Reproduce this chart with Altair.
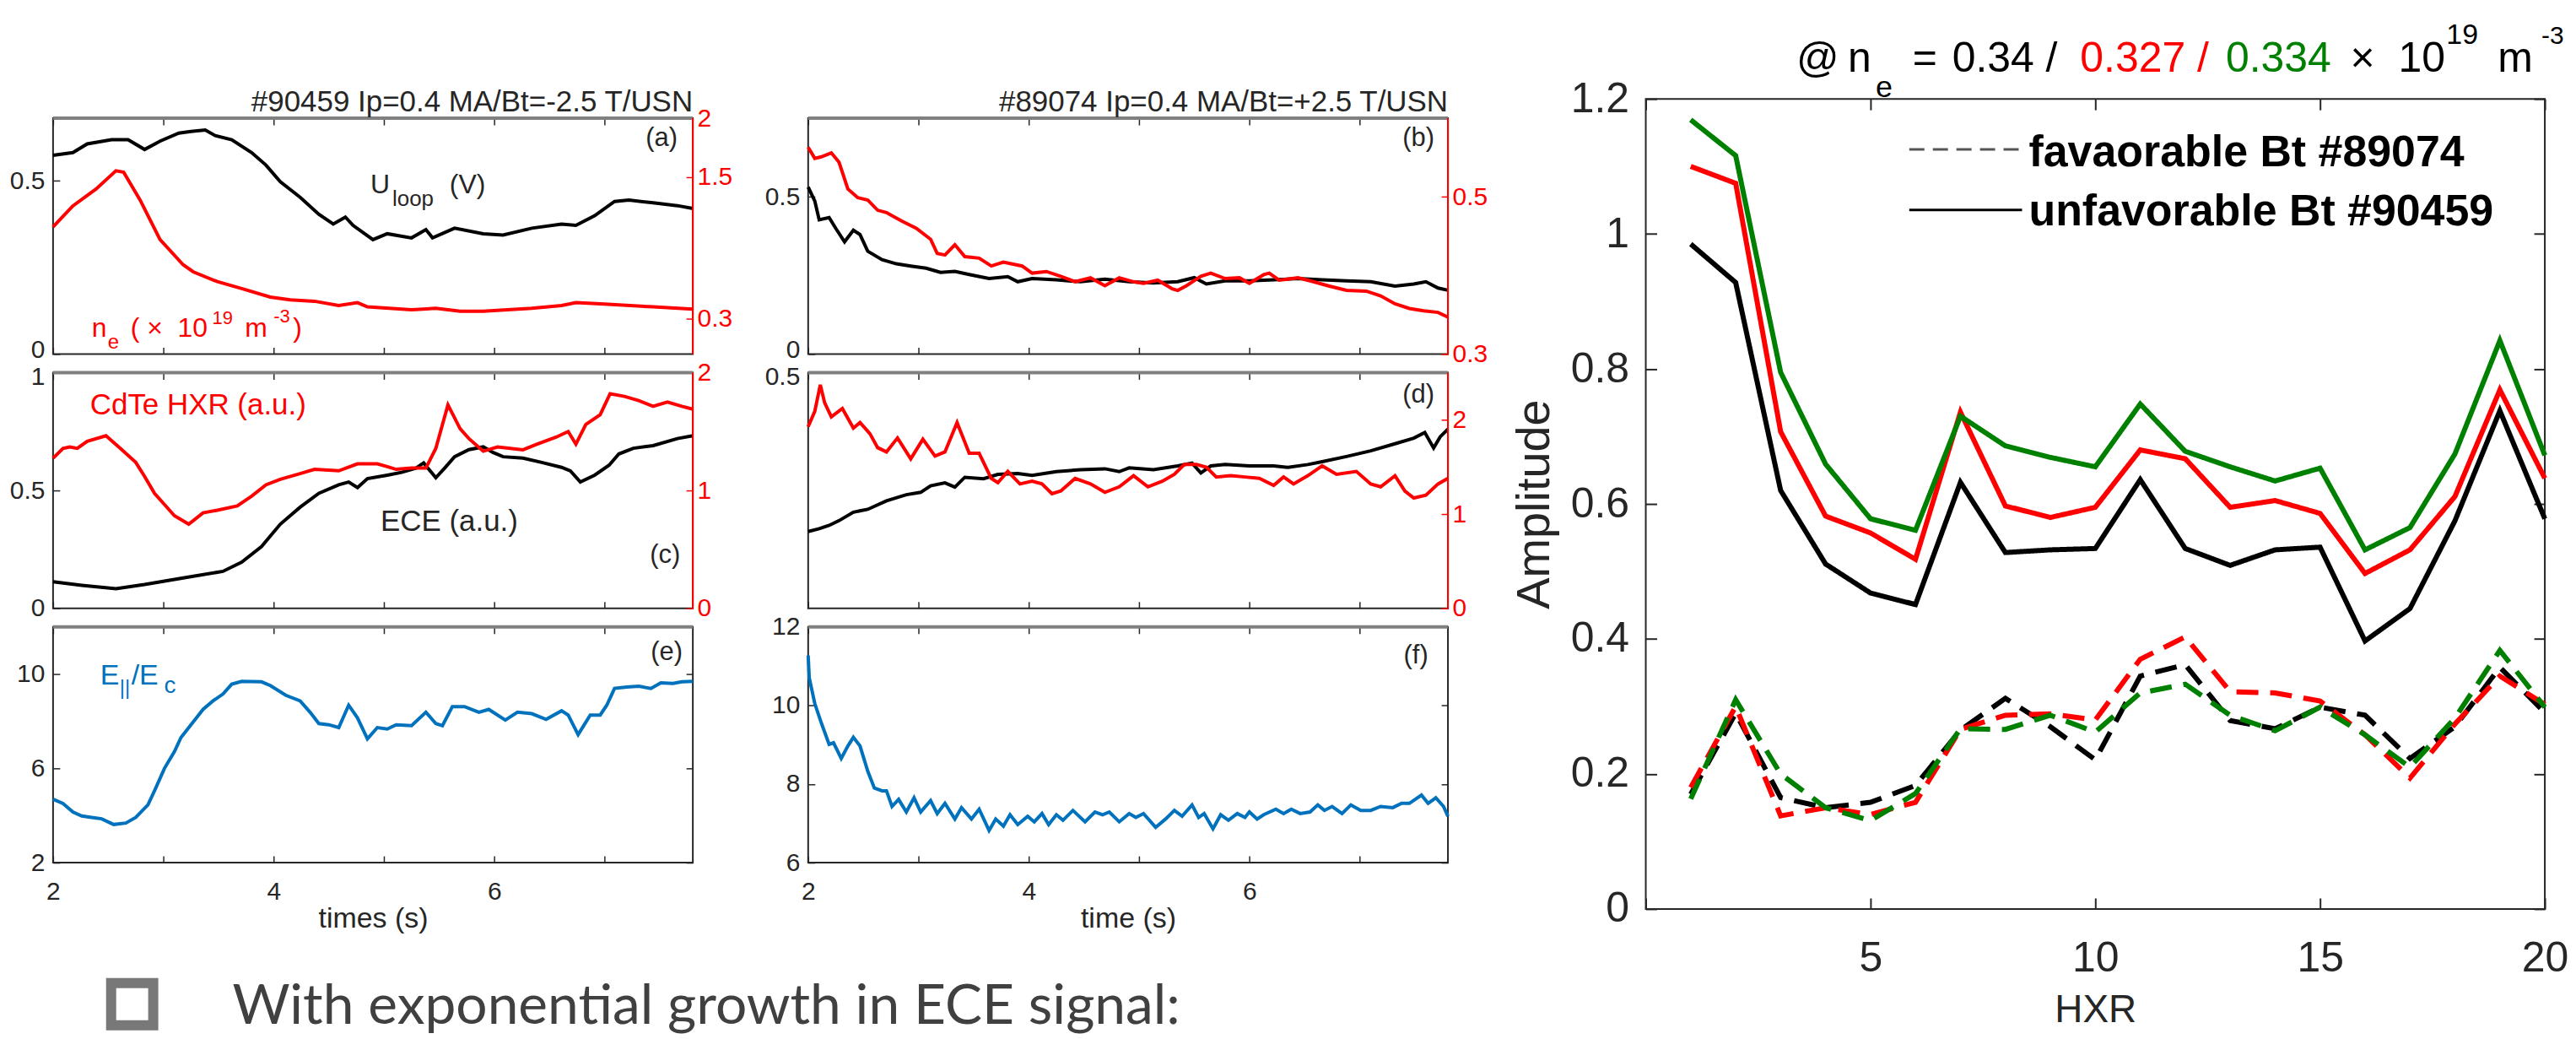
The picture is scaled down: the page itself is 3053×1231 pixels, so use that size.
import altair as alt
import pandas as pd

# ---------------- data ----------------
# (a) shot #90459
A_T_U = [2.00,2.18,2.31,2.53,2.68,2.83,2.97,3.14,3.25,3.38,3.47,3.62,3.80,3.93,4.06,4.24,4.41,4.54,4.65,4.72,4.90,5.03,5.25,5.38,5.44,5.64,5.90,6.08,6.34,6.61,6.74,6.91,7.09,7.22,7.44,7.66,7.80]
A_ULOOP = [0.573,0.581,0.606,0.618,0.618,0.590,0.614,0.637,0.642,0.646,0.630,0.618,0.581,0.545,0.497,0.452,0.403,0.375,0.395,0.371,0.330,0.347,0.335,0.359,0.335,0.363,0.347,0.343,0.363,0.375,0.371,0.399,0.440,0.444,0.436,0.428,0.420]
A_T_N = [2.00,2.18,2.39,2.57,2.64,2.79,2.97,3.18,3.27,3.49,3.71,3.97,4.15,4.37,4.59,4.76,4.85,5.25,5.47,5.69,5.90,6.12,6.34,6.61,6.74,7.00,7.44,7.80]
A_NE = [1.079,1.257,1.400,1.555,1.543,1.305,0.971,0.757,0.698,0.614,0.555,0.483,0.460,0.448,0.412,0.436,0.400,0.376,0.388,0.364,0.364,0.376,0.388,0.412,0.436,0.424,0.400,0.381]
# (b) shot #89074
B_T_U = [2.00,2.06,2.10,2.19,2.25,2.33,2.41,2.47,2.54,2.67,2.80,2.93,3.07,3.20,3.33,3.46,3.64,3.81,3.90,4.03,4.25,4.47,4.69,4.91,5.13,5.35,5.50,5.61,5.78,6.00,6.22,6.44,6.66,6.88,7.10,7.32,7.49,7.60,7.71,7.80]
B_ULOOP = [0.531,0.487,0.427,0.434,0.400,0.357,0.394,0.380,0.327,0.300,0.287,0.280,0.273,0.260,0.263,0.253,0.240,0.246,0.230,0.240,0.236,0.230,0.238,0.230,0.226,0.230,0.243,0.223,0.233,0.233,0.236,0.240,0.236,0.233,0.230,0.216,0.223,0.230,0.210,0.203]
B_T_N = [2.00,2.06,2.12,2.21,2.28,2.36,2.45,2.54,2.63,2.71,2.85,2.98,3.11,3.17,3.24,3.33,3.42,3.55,3.66,3.77,3.94,4.03,4.16,4.29,4.42,4.56,4.69,4.82,4.95,5.04,5.17,5.30,5.35,5.43,5.56,5.65,5.78,5.91,6.00,6.13,6.18,6.27,6.44,6.58,6.71,6.88,7.06,7.19,7.32,7.45,7.58,7.71,7.80]
B_NE = [0.563,0.549,0.551,0.556,0.544,0.510,0.499,0.496,0.483,0.480,0.469,0.460,0.446,0.428,0.426,0.439,0.424,0.422,0.412,0.417,0.412,0.403,0.405,0.399,0.392,0.397,0.387,0.397,0.392,0.390,0.394,0.383,0.381,0.387,0.399,0.403,0.396,0.397,0.390,0.401,0.403,0.394,0.397,0.392,0.387,0.381,0.380,0.374,0.364,0.358,0.355,0.353,0.347]
# (c)
C_T_E = [2.00,2.26,2.57,2.83,3.18,3.54,3.71,3.89,4.06,4.24,4.41,4.59,4.68,4.76,4.85,5.03,5.16,5.29,5.36,5.47,5.55,5.64,5.77,5.90,5.99,6.08,6.26,6.43,6.61,6.69,6.78,6.91,7.04,7.13,7.26,7.44,7.66,7.80]
C_ECE = [0.113,0.098,0.083,0.101,0.129,0.157,0.196,0.262,0.357,0.429,0.488,0.524,0.536,0.512,0.550,0.565,0.577,0.595,0.617,0.554,0.595,0.643,0.673,0.685,0.661,0.643,0.637,0.619,0.598,0.583,0.536,0.565,0.607,0.655,0.679,0.690,0.720,0.732]
C_T_H = [2.00,2.09,2.15,2.22,2.31,2.48,2.61,2.75,2.83,2.92,3.01,3.10,3.23,3.36,3.49,3.67,3.80,3.93,4.06,4.24,4.37,4.59,4.76,4.94,5.03,5.11,5.25,5.38,5.47,5.58,5.69,5.77,5.90,6.03,6.26,6.39,6.56,6.67,6.74,6.83,6.96,7.05,7.18,7.31,7.44,7.57,7.70,7.80]
C_HXR = [1.274,1.357,1.369,1.357,1.417,1.464,1.357,1.238,1.119,0.976,0.881,0.786,0.714,0.810,0.833,0.869,0.952,1.048,1.095,1.143,1.179,1.167,1.226,1.226,1.202,1.179,1.190,1.190,1.357,1.726,1.524,1.440,1.333,1.369,1.345,1.393,1.452,1.500,1.393,1.560,1.643,1.821,1.798,1.762,1.714,1.750,1.714,1.690]
# (d)
D_T_E = [2.00,2.10,2.19,2.28,2.41,2.54,2.71,2.89,3.02,3.11,3.24,3.33,3.42,3.59,3.72,3.90,4.03,4.25,4.47,4.69,4.82,4.91,5.13,5.35,5.48,5.56,5.65,5.78,6.00,6.22,6.35,6.53,6.66,6.88,7.10,7.32,7.49,7.59,7.67,7.73,7.80]
D_ECE = [0.163,0.169,0.176,0.186,0.204,0.210,0.228,0.241,0.246,0.260,0.266,0.257,0.278,0.275,0.284,0.286,0.282,0.290,0.294,0.296,0.290,0.298,0.294,0.302,0.308,0.287,0.302,0.305,0.302,0.302,0.299,0.305,0.311,0.322,0.334,0.349,0.361,0.373,0.340,0.364,0.380]
D_T_H = [2.00,2.06,2.11,2.15,2.21,2.31,2.41,2.47,2.56,2.63,2.71,2.81,2.93,3.04,3.15,3.24,3.35,3.46,3.55,3.66,3.72,3.81,3.92,4.03,4.12,4.21,4.29,4.42,4.56,4.69,4.82,4.95,5.08,5.21,5.32,5.41,5.52,5.61,5.70,5.83,5.96,6.09,6.22,6.31,6.40,6.53,6.66,6.79,6.97,7.10,7.19,7.32,7.41,7.49,7.60,7.71,7.80]
D_HXR = [1.926,2.089,2.370,2.178,2.030,2.119,1.911,1.970,1.852,1.704,1.659,1.807,1.585,1.793,1.615,1.659,1.970,1.644,1.644,1.378,1.333,1.452,1.319,1.348,1.319,1.215,1.244,1.378,1.319,1.230,1.289,1.407,1.289,1.348,1.422,1.526,1.526,1.496,1.393,1.407,1.393,1.378,1.304,1.393,1.319,1.407,1.511,1.422,1.452,1.319,1.289,1.407,1.244,1.170,1.200,1.319,1.378]
# (e)
E_T = [2.00,2.09,2.18,2.26,2.35,2.44,2.55,2.66,2.75,2.86,2.92,3.01,3.10,3.16,3.25,3.36,3.45,3.54,3.62,3.71,3.89,3.97,4.11,4.24,4.33,4.41,4.50,4.59,4.68,4.76,4.85,4.94,5.03,5.11,5.25,5.38,5.47,5.53,5.62,5.73,5.86,5.95,6.10,6.21,6.34,6.47,6.61,6.67,6.76,6.87,6.96,7.02,7.09,7.20,7.31,7.42,7.51,7.62,7.70,7.80]
E_RATIO = [4.69,4.51,4.15,3.98,3.92,3.86,3.62,3.68,3.92,4.45,5.05,6.00,6.71,7.31,7.85,8.50,8.86,9.15,9.57,9.69,9.67,9.51,9.10,8.86,8.38,7.90,7.85,7.73,8.68,8.14,7.25,7.73,7.67,7.85,7.81,8.38,7.90,7.81,8.62,8.62,8.38,8.50,8.05,8.38,8.32,8.08,8.44,8.26,7.43,8.26,8.26,8.68,9.39,9.45,9.48,9.39,9.63,9.60,9.67,9.69]
# (f)
F_T = [2.00,2.01,2.06,2.12,2.19,2.23,2.30,2.36,2.41,2.47,2.54,2.60,2.67,2.71,2.76,2.82,2.89,2.96,3.02,3.11,3.17,3.24,3.33,3.39,3.48,3.55,3.64,3.70,3.77,3.83,3.90,3.99,4.05,4.12,4.18,4.25,4.31,4.40,4.51,4.60,4.67,4.73,4.82,4.91,4.97,5.04,5.15,5.24,5.32,5.39,5.48,5.54,5.59,5.67,5.74,5.81,5.89,5.96,6.00,6.07,6.13,6.24,6.31,6.38,6.46,6.55,6.62,6.68,6.75,6.84,6.92,7.01,7.10,7.19,7.30,7.38,7.45,7.56,7.62,7.69,7.76,7.80]
F_RATIO = [11.27,10.70,10.05,9.55,9.01,9.05,8.65,8.97,9.19,8.97,8.33,7.90,7.83,7.83,7.43,7.61,7.29,7.65,7.29,7.58,7.25,7.51,7.11,7.40,7.11,7.36,6.82,7.11,6.93,7.22,6.97,7.18,7.04,7.25,6.97,7.22,7.08,7.33,7.04,7.29,7.22,7.29,7.04,7.25,7.15,7.25,6.90,7.11,7.33,7.18,7.47,7.15,7.25,6.86,7.22,7.08,7.25,7.15,7.29,7.11,7.22,7.36,7.25,7.36,7.25,7.29,7.47,7.33,7.43,7.25,7.47,7.33,7.33,7.43,7.40,7.51,7.51,7.72,7.51,7.65,7.43,7.18]

# right panel: amplitude vs HXR channel
HXR = list(range(1, 21))
NE_LABELS = ["0.34", "0.327", "0.334"]
UNF_BLACK = [0.985,0.928,0.620,0.511,0.468,0.451,0.632,0.528,0.532,0.534,0.636,0.534,0.509,0.532,0.536,0.397,0.445,0.575,0.738,0.578]
UNF_RED = [1.100,1.075,0.707,0.582,0.557,0.518,0.736,0.597,0.580,0.595,0.680,0.667,0.595,0.605,0.586,0.497,0.532,0.611,0.769,0.638]
UNF_GREEN = [1.169,1.116,0.795,0.659,0.578,0.561,0.730,0.686,0.669,0.655,0.748,0.678,0.655,0.634,0.653,0.532,0.565,0.674,0.842,0.672]
FAV_BLACK = [0.170,0.290,0.165,0.150,0.158,0.183,0.265,0.312,0.270,0.221,0.345,0.362,0.279,0.267,0.299,0.287,0.223,0.270,0.358,0.291]
FAV_RED = [0.180,0.300,0.138,0.150,0.140,0.158,0.266,0.287,0.289,0.280,0.370,0.403,0.322,0.320,0.308,0.258,0.194,0.274,0.345,0.303]
FAV_GREEN = [0.163,0.310,0.200,0.150,0.131,0.171,0.267,0.266,0.287,0.262,0.320,0.333,0.287,0.264,0.299,0.258,0.210,0.283,0.383,0.299]

# ---------------- style ----------------
F = "Liberation Sans"
AX = "#262626"
BLACK = "#000000"
RED = "#ff0000"
GREEN = "#008000"
BLUE = "#0072BD"
W, H = 760, 280
TK = 8
XT = [2, 3, 4, 5, 6, 7]
LFS = 30
ONE = pd.DataFrame({"k": [0]})


def txt(x, y, s, size=31, color=AX, align="left", baseline="alphabetic", font=F, weight="normal"):
    return alt.Chart(ONE).mark_text(text=s, align=align, baseline=baseline, font=font,
                                    fontSize=size, color=color, fontWeight=weight).encode(
        x=alt.value(x), y=alt.value(y))


def rule(x1, y1, x2, y2, color=AX, width=2.0, dash=None, opacity=1.0):
    kw = dict(color=color, strokeWidth=width, opacity=opacity)
    if dash:
        kw["strokeDash"] = dash
    return alt.Chart(ONE).mark_rule(**kw).encode(
        x=alt.value(x1), y=alt.value(y1), x2=alt.value(x2), y2=alt.value(y2))


def panel(s1, col1, dom1, vals1, s2=None, col2=None, dom2=None, vals2=None, rcol=AX,
          rlabels=False, xlabels=False, xtitle=None, extras=(), marker=None, loff=None):
    d1 = pd.DataFrame({"t": s1[0], "v": s1[1]})
    xs = alt.Scale(domain=[2, 7.8], nice=False, zero=False)
    xb = dict(orient="bottom", values=XT, offset=-TK, tickSize=TK, tickColor=AX, tickWidth=1.5,
              domain=False, grid=False, labelFlush=False, labels=xlabels,
              labelExpr="datum.value % 2 == 0 ? datum.label : ''",
              labelFont=F, labelFontSize=LFS, labelColor=AX, labelPadding=20)
    if xtitle:
        xb.update(title=xtitle, titleFont=F, titleFontSize=34, titleFontWeight="normal",
                  titleColor=AX, titlePadding=0)
    else:
        xb["title"] = None
    yl = dict(orient="left", values=vals1, offset=-TK, tickSize=TK, tickColor=AX,
              tickWidth=1.5, domain=False, grid=False, format=".2~f",
              labelFont=F, labelFontSize=LFS, labelColor=AX, labelPadding=10, title=None)
    if loff is not None:
        yl["labelOffset"] = {"condition": {"test": "datum.value == %s" % loff[0], "value": loff[1]},
                             "value": 0}
    l1 = alt.Chart(d1).mark_line(color=col1, strokeWidth=4).encode(
        x=alt.X("t:Q", scale=xs, axis=alt.Axis(**xb)),
        y=alt.Y("v:Q", scale=alt.Scale(domain=dom1, nice=False, zero=False), axis=alt.Axis(**yl)))
    if s2 is None:
        d2, c2, dm2, v2, op = d1, col1, dom1, vals1, 0.0
    else:
        d2, c2, dm2, v2, op = pd.DataFrame({"t": s2[0], "v": s2[1]}), col2, dom2, vals2, 1.0
    l2 = alt.Chart(d2).mark_line(color=c2, strokeWidth=4, opacity=op).encode(
        x=alt.X("t:Q", scale=xs,
                axis=alt.Axis(orient="top", values=XT, offset=-TK, tickSize=TK, tickColor=AX,
                              tickWidth=1.5, domain=False, grid=False, labels=False, title=None)),
        y=alt.Y("v:Q", scale=alt.Scale(domain=dm2, nice=False, zero=False),
                axis=alt.Axis(orient="right", values=v2, offset=-TK, tickSize=TK, tickColor=rcol,
                              tickWidth=1.5, domain=False, grid=False, labels=rlabels, format=".2~f",
                              labelFont=F, labelFontSize=LFS, labelColor=rcol, labelPadding=5,
                              title=None)))
    layers = [l1, l2, rule(0, 0, W, 0, color="#808080", width=4)]
    if rcol == RED:
        layers.append(rule(W, 0, W, H, color=RED, width=2))
    layers += list(extras)
    if marker is not None:
        layers.append(marker)
    return alt.layer(*layers).resolve_scale(y="independent").resolve_axis(
        x="independent", y="independent").properties(width=W, height=H)


def spacer():
    return alt.Chart(ONE).mark_point(opacity=0).encode(
        x=alt.value(0), y=alt.value(0)).properties(
        width=W, height=1, view=alt.ViewBackground(strokeOpacity=0))


pa = panel((A_T_U, A_ULOOP), BLACK, [0, 0.68], [0, 0.5],
           (A_T_N, A_NE), RED, [0, 2], [0.3, 1.5, 2], rcol=RED, rlabels=True, loff=(0, -5),
           extras=[
               txt(W, -8, "#90459 Ip=0.4 MA/Bt=-2.5 T/USN", size=35, align="right"),
               txt(723, 24, "(a)", align="center", baseline="middle"),
               txt(377, 89, "U", size=32), txt(403, 104, "loop", size=26), txt(471, 89, "(V)", size=32),
               txt(46, 259, "n", size=32, color=RED), txt(65, 274, "e", size=24, color=RED),
               txt(92, 259, "( \u00d7", size=32, color=RED), txt(148, 259, "10", size=32, color=RED),
               txt(189, 244, "19", size=22, color=RED), txt(228, 259, "m", size=32, color=RED),
               txt(262, 242, "-3", size=22, color=RED), txt(285, 259, ")", size=32, color=RED),
           ],
           marker=rule(-54, 0, 826, 0, width=1, opacity=0))

pb = panel((B_T_U, B_ULOOP), BLACK, [0, 0.75], [0, 0.5],
           (B_T_N, B_NE), RED, [0.3, 0.6], [0.3, 0.5], rcol=RED, rlabels=True, loff=(0, -5),
           extras=[
               txt(W, -8, "#89074 Ip=0.4 MA/Bt=+2.5 T/USN", size=35, align="right"),
               txt(725, 24, "(b)", align="center", baseline="middle"),
           ],
           marker=rule(-69, 0, 821, 0, width=1, opacity=0))

pc = panel((C_T_E, C_ECE), BLACK, [0, 1], [0, 0.5, 1],
           (C_T_H, C_HXR), RED, [0, 2], [0, 1, 2], rcol=RED, rlabels=True, loff=(1, 5),
           extras=[
               txt(44, 50, "CdTe HXR (a.u.)", size=35, color=RED),
               txt(389, 188, "ECE (a.u.)", size=35),
               txt(727, 217, "(c)", align="center", baseline="middle"),
           ])

pd_ = panel((D_T_E, D_ECE), BLACK, [0, 0.5], [0.5],
            (D_T_H, D_HXR), RED, [0, 2.5], [0, 1, 2], rcol=RED, rlabels=True, loff=(0.5, 5),
            extras=[txt(725, 27, "(d)", align="center", baseline="middle")])

box = alt.Chart(ONE).mark_square(filled=False, size=2500, strokeWidth=12, color="#404040").encode(
    x=alt.value(94), y=alt.value(448))

pe = panel((E_T, E_RATIO), BLUE, [2, 12], [2, 6, 10], xlabels=True, xtitle="times (s)",
           extras=[
               txt(56, 68, "E", size=34, color=BLUE), txt(79, 80, "||", size=24, color=BLUE),
               txt(93, 68, "/E", size=34, color=BLUE), txt(132, 78, "c", size=28, color=BLUE),
               txt(729, 30, "(e)", align="center", baseline="middle"),
               box,
           ])

pf = panel((F_T, F_RATIO), BLUE, [6, 12], [6, 8, 10, 12], xlabels=True, xtitle="time (s)",
           extras=[txt(722, 34, "(f)", align="center", baseline="middle")])

col_left = alt.vconcat(spacer(), pa, pc, pe, spacing=22, bounds="flush")
col_mid = alt.vconcat(spacer(), pb, pd_, pf, spacing=22, bounds="flush")

# ---------------- right panel ----------------
RW, RH, RTK = 1068, 962, 13
rows = []
for bt, series in (("unfavorable", (UNF_BLACK, UNF_RED, UNF_GREEN)),
                   ("favorable", (FAV_BLACK, FAV_RED, FAV_GREEN))):
    for ne, vals in zip(NE_LABELS, series):
        for h, v in zip(HXR, vals):
            rows.append({"hxr": h, "amp": v, "ne": ne, "bt": bt})
dr = pd.DataFrame(rows)

rx = alt.Scale(domain=[0, 20], nice=False, zero=False)
ry = alt.Scale(domain=[0, 1.2], nice=False, zero=False)
YV = [0, 0.2, 0.4, 0.6, 0.8, 1.0, 1.2]
XV = [0, 5, 10, 15, 20]

lines = alt.Chart(dr).mark_line(strokeWidth=6).encode(
    x=alt.X("hxr:Q", scale=rx,
            axis=alt.Axis(orient="bottom", values=XV, offset=-RTK, tickSize=RTK, tickColor=AX,
                          tickWidth=2, domain=False, grid=False, labelFlush=False,
                          labelExpr="datum.value == 0 ? '' : datum.label",
                          labelFont=F, labelFontSize=50, labelColor=AX, labelPadding=34,
                          title="HXR", titleFont=F, titleFontSize=46, titleFontWeight="normal",
                          titleColor=AX, titlePadding=14)),
    y=alt.Y("amp:Q", scale=ry,
            axis=alt.Axis(orient="left", values=YV, offset=-RTK, tickSize=RTK, tickColor=AX,
                          tickWidth=2, domain=False, grid=False, format=".1~f",
                          labelFont=F, labelFontSize=50, labelColor=AX, labelPadding=20,
                          title="Amplitude", titleFont=F, titleFontSize=56,
                          titleFontWeight="normal", titleColor=AX, titlePadding=14)),
    color=alt.Color("ne:N", scale=alt.Scale(domain=NE_LABELS, range=[BLACK, RED, GREEN]), legend=None),
    strokeDash=alt.StrokeDash("bt:N", scale=alt.Scale(domain=["favorable", "unfavorable"],
                                                      range=[[26, 14], [1, 0]]), legend=None),
)
mirror = alt.Chart(dr).mark_point(opacity=0).encode(
    x=alt.X("hxr:Q", scale=rx,
            axis=alt.Axis(orient="top", values=XV, offset=-RTK, tickSize=RTK, tickColor=AX,
                          tickWidth=2, domain=False, grid=False, labels=False, title=None)),
    y=alt.Y("amp:Q", scale=ry,
            axis=alt.Axis(orient="right", values=YV, offset=-RTK, tickSize=RTK, tickColor=AX,
                          tickWidth=2, domain=False, grid=False, labels=False, title=None)),
)

LEG_F = "Liberation Sans"
right_extras = [
    rule(313, 60, 447, 60, color="#555555", width=3, dash=[18, 10]),
    txt(455, 80, "favaorable Bt #89074", size=52, color=BLACK, font=LEG_F, weight="bold"),
    rule(313, 132, 447, 132, color=BLACK, width=3),
    txt(455, 150, "unfavorable Bt #90459", size=52, color=BLACK, font=LEG_F, weight="bold"),
    # title: @ n_e = 0.34 / 0.327 / 0.334 x 10^19 m^-3
    txt(179, -32, "@", size=50, color=BLACK),
    txt(240, -32, "n", size=50, color=BLACK),
    txt(273, -2, "e", size=36, color=BLACK),
    txt(317, -32, "=", size=50, color=BLACK),
    txt(364, -32, "0.34 /", size=50, color=BLACK),
    txt(516, -32, "0.327 /", size=50, color=RED),
    txt(689, -32, "0.334", size=50, color=GREEN),
    txt(837, -32, "\u00d7", size=50, color=BLACK),
    txt(894, -32, "10", size=50, color=BLACK),
    txt(951, -65, "19", size=34, color=BLACK),
    txt(1012, -32, "m", size=50, color=BLACK),
    txt(1064, -65, "-3", size=30, color=BLACK),
    rule(-172, -107, -172, -106, width=1, opacity=0),
]

pr = alt.layer(lines, mirror, *right_extras).resolve_axis(
    x="independent", y="independent").properties(width=RW, height=RH)

chart = alt.hconcat(col_left, col_mid, pr, spacing=0, bounds="full").properties(
    padding=0,
    title=alt.TitleParams("With exponential growth in ECE signal:", orient="bottom", anchor="start",
                          frame="bounds", offset=-27, dx=268, font="Lato", fontSize=66,
                          fontWeight="normal", color="#404040", baseline="alphabetic"),
).configure_view(stroke=AX, strokeWidth=2)

chart.save("out.html", embed_options={"renderer": "svg", "actions": False})
